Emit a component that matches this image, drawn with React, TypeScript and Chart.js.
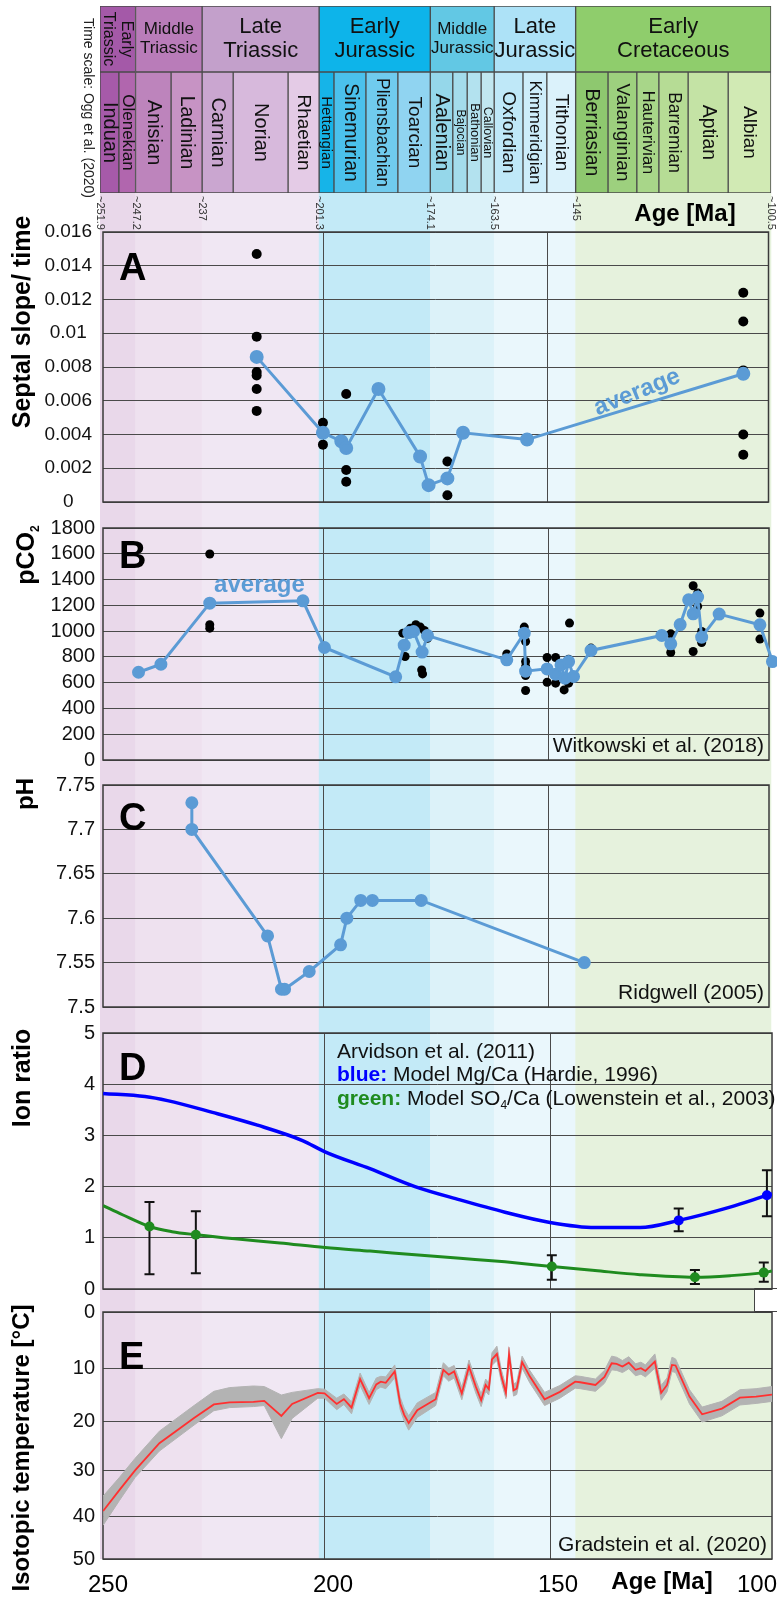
import React, { useEffect, useRef } from 'react';
import { Chart, registerables, LinearScale } from 'chart.js';

Chart.register(...registerables);

/* ---------- isotopic temperature axis (linear in d18O -> uneven in T) ---------- */
const ISO_LIN = 5.79;
const ISO_QUAD = -0.017;
const isoWarp = (t: number) => ISO_LIN * t + ISO_QUAD * t * t;

class IsoTempScale extends LinearScale {
  static id = 'isotemp';
  getPixelForValue(value: number) {
    if (value === null || value === undefined || Number.isNaN(value)) return NaN;
    const a = isoWarp(this.min as number);
    const b = isoWarp(this.max as number);
    return this.getPixelForDecimal((isoWarp(value) - a) / (b - a));
  }
  getValueForPixel(pixel: number) {
    const a = isoWarp(this.min as number);
    const b = isoWarp(this.max as number);
    const w = a + this.getDecimalForPixel(pixel) * (b - a);
    const disc = ISO_LIN * ISO_LIN + 4 * ISO_QUAD * w;
    return (-ISO_LIN + Math.sqrt(Math.max(disc, 0))) / (2 * ISO_QUAD);
  }
}
Chart.register(IsoTempScale as any);

/* ================= DATA ================= */

// age axis (Ma)
const AGE_LEFT = 249.33;
const AGE_RIGHT = 100.67;
const AGE_GRID = [200, 150];
const AGE_AXIS_TICKS = [250, 200, 150, 100];
const AGE_AXIS_LABELS = ['250', '200', '150', '100'];

// time scale (as drawn in the figure)
const EPOCH_NAMES = ['Early Triassic', 'Middle Triassic', 'Late Triassic', 'Early Jurassic', 'Middle Jurassic', 'Late Jurassic', 'Early Cretaceous'];
const EPOCH_BOUNDS = [250, 242.1, 227.3, 201.3, 176.6, 162.4, 144.3, 100.9];
const EPOCH_BOUND_LABELS = ['~251.9', '~247.2', '~237', '~201.3', '~174.1', '~163.5', '~145', '~100.5'];
const STAGE_NAMES = ['Induan', 'Olenekian', 'Anisian', 'Ladinian', 'Carnian', 'Norian', 'Rhaetian', 'Hettangian', 'Sinemurian', 'Pliensbachian', 'Toarcian', 'Aalenian', 'Bajocian', 'Bathonian', 'Callovian', 'Oxfordian', 'Kimmeridgian', 'Tithonian', 'Berriasian', 'Valanginian', 'Hauterivian', 'Barremian', 'Aptian', 'Albian'];
const STAGE_BOUNDS = [250, 245.8, 242.1, 234.2, 227.3, 220.4, 208.2, 201.3, 198.0, 190.9, 183.8, 176.6, 171.6, 168.4, 165.3, 162.4, 156.0, 150.7, 144.3, 137.1, 130.7, 125.8, 119.3, 110.4, 100.9];

// A: septal slope / time
const A_TICKS = [0, 0.002, 0.004, 0.006, 0.008, 0.01, 0.012, 0.014, 0.016];
const A_TICK_LABELS = ['0', '0.002', '0.004', '0.006', '0.008', '0.01', '0.012', '0.014', '0.016'];
const A_DOT_AGES = [215, 215, 215, 215, 215, 215, 200.2, 200.2, 195, 195, 195, 172.4, 172.4, 106.3, 106.3, 106.3, 106.3, 106.3];
const A_DOT_VALS = [0.0147, 0.0098, 0.0077, 0.0075, 0.0067, 0.0054, 0.0047, 0.0034, 0.0064, 0.0019, 0.0012, 0.0024, 0.0004, 0.0124, 0.0107, 0.0078, 0.004, 0.0028];
const A_AVG_AGES = [215, 200.2, 196.1, 195, 187.8, 178.5, 176.6, 172.4, 168.9, 154.6, 106.3];
const A_AVG_VALS = [0.0086, 0.0041, 0.0036, 0.0032, 0.0067, 0.0027, 0.001, 0.0014, 0.0041, 0.0037, 0.0076];
const A_AVG_LABEL = { age: 130, value: 0.0065 };

// B: pCO2
const B_TICKS = [0, 200, 400, 600, 800, 1000, 1200, 1400, 1600, 1800];
const B_TICK_LABELS = ['0', '200', '400', '600', '800', '1000', '1200', '1400', '1600', '1800'];
const B_AVG_AGES = [241.4, 236.4, 225.5, 204.7, 199.9, 184.0, 182.1, 181.1, 180.0, 178.1, 176.9, 159.2, 155.3, 155.0, 150.2, 148.3, 147.1, 146.2, 145.4, 144.3, 140.4, 124.6, 122.6, 120.5, 118.6, 117.6, 116.6, 115.7, 111.8, 102.7, 99.9];
const B_AVG_VALS = [681, 743, 1217, 1235, 873, 645, 891, 989, 997, 837, 966, 777, 984, 689, 707, 666, 738, 635, 764, 648, 850, 966, 901, 1051, 1243, 1134, 1264, 953, 1132, 1049, 764];
const B_DOT_AGES = [225.5, 225.5, 225.5, 182.4, 180.7, 179.5, 178.5, 177.6, 176.9, 181.9, 178.2, 178.0, 159.2, 159.2, 155.3, 155.0, 155.0, 155.0, 155.0, 155.0, 150.2, 150.2, 148.3, 148.3, 146.4, 145.4, 145.2, 145.4, 140.4, 122.6, 122.6, 117.6, 116.6, 116.6, 117.6, 115.7, 115.7, 102.7, 102.7];
const B_DOT_VALS = [1598, 1049, 1023, 984, 1023, 1049, 1031, 1005, 945, 803, 699, 668, 823, 764, 1031, 919, 764, 725, 655, 539, 795, 603, 795, 596, 544, 596, 1062, 782, 868, 979, 834, 1352, 1295, 1192, 842, 997, 912, 1140, 938];
const B_AVG_LABEL = { age: 214.4, value: 1303 };

// C: pH
const C_TICKS = [7.5, 7.55, 7.6, 7.65, 7.7, 7.75];
const C_TICK_LABELS = ['7.5', '7.55', '7.6', '7.65', '7.7', '7.75'];
const C_AGES = [229.5, 229.5, 212.6, 209.5, 208.8, 203.3, 196.3, 194.9, 191.8, 189.2, 178.3, 141.9];
const C_VALS = [7.73, 7.7, 7.58, 7.52, 7.52, 7.54, 7.57, 7.6, 7.62, 7.62, 7.62, 7.55];

// D: ion ratios
const D_TICKS = [0, 1, 2, 3, 4, 5];
const D_TICK_LABELS = ['0', '1', '2', '3', '4', '5'];
const D_MG_AGES = [249.3, 240, 235, 225, 215, 205, 200, 190, 180, 170, 160, 150, 140, 130, 121.4, 110, 101.8, 100.7];
const D_MG_VALS = [3.82, 3.76, 3.68, 3.45, 3.2, 2.9, 2.68, 2.35, 2.0, 1.74, 1.5, 1.3, 1.2, 1.2, 1.34, 1.6, 1.83, 1.86];
const D_SO4_AGES = [249.3, 245, 239, 234, 228.7, 220, 210, 200, 190, 180, 170, 160, 149.6, 140, 130, 117.8, 110, 102.5, 100.7];
const D_SO4_VALS = [1.63, 1.45, 1.22, 1.12, 1.06, 0.98, 0.9, 0.81, 0.74, 0.67, 0.6, 0.53, 0.44, 0.36, 0.28, 0.23, 0.26, 0.32, 0.35];
const D_MG_PT_AGES = [121.4, 101.8];
const D_MG_PT_VALS = [1.34, 1.83];
const D_MG_ERR_LO = [1.13, 1.42];
const D_MG_ERR_HI = [1.57, 2.32];
const D_SO4_PT_AGES = [239, 228.7, 149.6, 117.8, 102.5];
const D_SO4_PT_VALS = [1.22, 1.06, 0.44, 0.23, 0.32];
const D_SO4_ERR_LO = [0.29, 0.31, 0.18, 0.1, 0.14];
const D_SO4_ERR_HI = [1.7, 1.52, 0.66, 0.37, 0.52];

// E: isotopic temperature
const E_TICKS = [0, 10, 20, 30, 40, 50];
const E_TICK_LABELS = ['0', '10', '20', '30', '40', '50'];
const E_AGES = [249.3, 245.7, 242.2, 236.8, 229.1, 224.7, 221.2, 215.9, 213.5, 209.7, 207.3, 201.6, 200.1, 197.4, 195.8, 194.1, 192.2, 190.2, 188.6, 187.6, 186.5, 184.5, 183.3, 182.4, 181.4, 179.5, 175.4, 173.7, 172.5, 171.3, 169.6, 168.0, 166.5, 165.3, 164.3, 163.6, 162.9, 161.8, 160.8, 159.8, 159.1, 158.1, 157.4, 156.2, 154.5, 151.2, 147.8, 144.4, 143.3, 139.9, 137.9, 136.3, 135.2, 133.9, 132.5, 131.0, 129.8, 128.8, 126.7, 125.3, 124.0, 122.9, 122.1, 119.0, 116.2, 111.8, 107.8, 104.2, 100.6];
const E_TEMP = [38.8, 34.2, 30.0, 24.4, 19.4, 16.8, 16.4, 16.3, 16.1, 19.0, 16.7, 14.6, 14.7, 16.7, 15.8, 17.4, 12.0, 15.6, 13.0, 12.5, 12.7, 10.6, 16.6, 18.8, 20.4, 17.9, 15.8, 10.3, 11.2, 10.6, 14.7, 9.7, 13.4, 16.0, 13.1, 13.9, 8.4, 7.4, 11.5, 14.6, 7.5, 14.1, 13.8, 8.9, 11.5, 15.8, 14.4, 12.5, 12.6, 13.1, 11.6, 9.1, 9.2, 9.7, 9.0, 10.3, 10.0, 10.5, 8.8, 14.6, 13.1, 9.4, 9.5, 15.3, 18.7, 17.6, 15.5, 15.3, 14.9];
const E_BAND_LO = [35.5, 31.5, 27.5, 22.0, 17.0, 14.3, 13.6, 13.3, 13.4, 15.0, 14.5, 13.8, 13.9, 15.6, 14.8, 16.3, 10.9, 14.5, 11.8, 11.5, 11.6, 9.4, 15.4, 17.5, 19.0, 16.5, 14.5, 9.0, 10.0, 9.5, 13.5, 8.5, 12.2, 14.8, 12.0, 12.7, 7.2, 6.0, 10.3, 13.4, 6.2, 12.9, 12.6, 7.8, 10.4, 14.5, 13.2, 11.4, 11.5, 12.0, 10.4, 7.8, 8.0, 8.6, 7.9, 9.2, 8.9, 9.4, 7.4, 13.2, 11.8, 8.0, 8.3, 14.0, 17.3, 16.2, 14.0, 13.8, 13.4];
const E_BAND_HI = [42.0, 36.5, 31.5, 26.0, 20.8, 18.0, 17.4, 17.2, 17.0, 23.5, 19.5, 15.6, 15.6, 17.8, 16.8, 18.6, 13.2, 16.8, 14.0, 13.5, 13.8, 11.8, 17.8, 20.0, 21.8, 19.3, 17.0, 11.4, 12.4, 11.8, 15.9, 10.8, 14.6, 17.2, 14.3, 15.0, 9.5, 8.6, 12.6, 15.7, 8.7, 15.2, 14.9, 10.0, 12.7, 17.0, 15.6, 13.7, 13.8, 14.3, 12.8, 10.3, 10.4, 10.8, 10.1, 11.4, 11.1, 11.6, 10.0, 16.0, 14.4, 10.6, 10.8, 16.7, 20.2, 19.0, 16.9, 16.6, 16.2];

/* ================= STYLE ================= */
const W = 777;
const H = 1597;
const PAD = 16;
const FONT = "'Liberation Sans', Arial, Helvetica, sans-serif";
const f = (size: number, bold = false) => `${bold ? 'bold ' : ''}${size}px ${FONT}`;
const INK = '#111111';
const GRID = '#4a4a4a';
const FRAME = '#3a3a3a';
const HEADER_LINE = '#4a4a4a';
const AVG_BLUE = '#5b9bd5';
const MG_BLUE = '#0000ff';
const SO4_GREEN = '#1f8b1f';
const TEMP_RED = '#ff3030';
const BAND_GRAY = '#b3b3b3';

const EPOCH_COLORS = ['#a459a8', '#b97cb9', '#c3a0cb', '#0db4ea', '#62c8e4', '#ade2f7', '#8fcd6c'];
const BAND_COLORS = ['#e9d8ea', '#eee1ef', '#f0e7f3', '#c3eaf7', '#dcf2f9', '#eaf7fc', '#e6f2dd'];
const EPOCH_FONT = [16, 17, 22, 22, 17, 22, 22];
const EPOCH_ROTATED = [true, false, false, false, false, false, false];
const STAGE_COLORS = ['#a65aa9', '#b166ae', '#bd84bc', '#c793c4', '#caa6d0', '#d7b9dc', '#e4cbe6', '#16b4e8', '#4bc1ec', '#70cbee', '#90d4f1', '#95d7ea', '#a4dcec', '#b3e2ef', '#c1e7f0', '#bfe8f8', '#cdedfa', '#dbf2fb', '#8ec86f', '#9dd07e', '#a8d689', '#b6dc95', '#c4e3a5', '#d1eab4'];
const STAGE_FONT = [20, 17, 20, 19.5, 20, 20, 19, 15, 19.5, 17.5, 19, 20, 12, 13, 12.5, 19, 17, 19, 19.5, 19, 16.5, 17.5, 19.5, 19];

/* ================= helpers ================= */
const pts = (xs: number[], ys: number[]) => xs.map((x, i) => ({ x, y: ys[i] }));

function rotText(ctx: any, text: string, x: number, y: number, angle: number, font: string, color: string, align = 'center', baseline = 'middle') {
  ctx.save();
  ctx.translate(x, y);
  ctx.rotate(angle);
  ctx.font = font;
  ctx.fillStyle = color;
  ctx.textAlign = align;
  ctx.textBaseline = baseline;
  ctx.fillText(text, 0, 0);
  ctx.restore();
}

type Run = { t: string; f: string; c: string; dy?: number };
function runsWidth(ctx: any, runs: Run[]) {
  let w = 0;
  for (const r of runs) { ctx.font = r.f; w += ctx.measureText(r.t).width; }
  return w;
}
function drawRuns(ctx: any, runs: Run[], x: number, y: number) {
  let cx = x;
  ctx.textAlign = 'left';
  ctx.textBaseline = 'alphabetic';
  for (const r of runs) {
    ctx.font = r.f;
    ctx.fillStyle = r.c;
    ctx.fillText(r.t, cx, y + (r.dy || 0));
    cx += ctx.measureText(r.t).width;
  }
}

function drawLines(ctx: any, lines: string[], cx: number, cy: number, size: number, rotate: boolean) {
  ctx.save();
  ctx.translate(cx, cy);
  if (rotate) ctx.rotate(Math.PI / 2);
  ctx.font = f(size);
  ctx.fillStyle = INK;
  ctx.textAlign = 'center';
  ctx.textBaseline = 'middle';
  const lh = size * 1.12;
  lines.forEach((l, i) => ctx.fillText(l, 0, (i - (lines.length - 1) / 2) * lh));
  ctx.restore();
}

const framePlugin = {
  id: 'frame',
  beforeDatasetsDraw(chart: any) {
    const { ctx, chartArea: a } = chart;
    ctx.save();
    ctx.strokeStyle = FRAME;
    ctx.lineWidth = 1.5;
    ctx.strokeRect(a.left, a.top, a.right - a.left, a.bottom - a.top);
    ctx.restore();
  },
};

function drawLetter(chart: any, letter: string, baseOff: number) {
  const { ctx, chartArea: a } = chart;
  ctx.save();
  ctx.font = f(38, true);
  ctx.fillStyle = '#000';
  ctx.textAlign = 'left';
  ctx.textBaseline = 'alphabetic';
  ctx.fillText(letter, a.left + 16, a.top + baseOff);
  ctx.restore();
}

function drawSource(chart: any, text: string) {
  const { ctx, chartArea: a } = chart;
  ctx.save();
  ctx.font = f(21);
  ctx.fillStyle = INK;
  ctx.textAlign = 'right';
  ctx.textBaseline = 'alphabetic';
  ctx.fillText(text, a.right - 5, a.bottom - 8);
  ctx.restore();
}

function errorBars(chart: any, ages: number[], lo: number[], hi: number[]) {
  const { ctx, scales } = chart;
  const xs = scales.x, ys = scales.y;
  ctx.save();
  ctx.strokeStyle = '#111';
  ctx.lineWidth = 2;
  ages.forEach((a, i) => {
    const px = xs.getPixelForValue(a);
    const p1 = ys.getPixelForValue(lo[i]);
    const p2 = ys.getPixelForValue(hi[i]);
    ctx.beginPath();
    ctx.moveTo(px, p1); ctx.lineTo(px, p2);
    ctx.moveTo(px - 5, p1); ctx.lineTo(px + 5, p1);
    ctx.moveTo(px - 5, p2); ctx.lineTo(px + 5, p2);
    ctx.stroke();
  });
  ctx.restore();
}

const baseOptions = {
  animation: false,
  responsive: false,
  maintainAspectRatio: false,
  devicePixelRatio: 1,
  events: [],
  plugins: { legend: { display: false }, tooltip: { enabled: false } },
};

/* ================= time scale + background ================= */
function rowConfig(bounds: number[], colors: string[], border: boolean, top: number, bottom: number, decor: any) {
  return {
    type: 'bar',
    data: {
      labels: ['row'],
      datasets: [{
        data: colors.map((_, i) => ({ y: 'row', x: [bounds[i], bounds[i + 1]] })),
        backgroundColor: colors,
        borderColor: HEADER_LINE,
        borderWidth: border ? 1 : 0,
        borderSkipped: false,
        categoryPercentage: 1,
        barPercentage: 1,
      }],
    },
    options: {
      ...baseOptions,
      indexAxis: 'y',
      layout: { padding: { left: 100, right: 2, top, bottom } },
      scales: {
        x: { type: 'linear', min: 100, max: 250, reverse: true, display: false },
        y: { type: 'category', display: false },
      },
    },
    plugins: [decor],
  };
}

const bandsDecor = {
  id: 'bandsDecor',
  afterDraw(chart: any) {
    const ctx = chart.ctx;
    const xs = chart.scales.x;
    EPOCH_BOUNDS.forEach((age, i) => {
      rotText(ctx, EPOCH_BOUND_LABELS[i], xs.getPixelForValue(age), 196, Math.PI / 2, f(11), '#333', 'left', 'middle');
    });
    rotText(ctx, 'Age [Ma]', 685, 214, 0, f(24, true), '#000');
    rotText(ctx, 'Time scale: Ogg et al. (2020)', 88, 108, Math.PI / 2, f(14), '#222');
    rotText(ctx, 'Septal slope/ time', 23, 322, -Math.PI / 2, f(25, true), '#000');
    // pCO2 with subscript
    ctx.save();
    ctx.translate(25, 555);
    ctx.rotate(-Math.PI / 2);
    const runs: Run[] = [
      { t: 'pCO', f: f(25, true), c: '#000' },
      { t: '2', f: f(12, true), c: '#000', dy: 5 },
    ];
    drawRuns(ctx, runs, -runsWidth(ctx, runs) / 2, 9);
    ctx.restore();
    rotText(ctx, 'pH', 26, 794, -Math.PI / 2, f(24, true), '#000');
    rotText(ctx, 'Ion ratio', 23, 1078, -Math.PI / 2, f(25, true), '#000');
    rotText(ctx, 'Isotopic temperature [°C]', 22, 1448, -Math.PI / 2, f(24, true), '#000');
    // leftover box between panels D and E
    ctx.save();
    ctx.fillStyle = '#fff';
    ctx.fillRect(754, 1288, 23, 24);
    ctx.strokeStyle = '#444';
    ctx.lineWidth = 1;
    ctx.beginPath();
    ctx.moveTo(777, 1288.5); ctx.lineTo(754.5, 1288.5); ctx.lineTo(754.5, 1311.5); ctx.lineTo(777, 1311.5);
    ctx.stroke();
    ctx.restore();
  },
};

const epochDecor = {
  id: 'epochDecor',
  afterDatasetsDraw(chart: any) {
    const meta = chart.getDatasetMeta(0);
    meta.data.forEach((bar: any, i: number) => {
      const p = bar.getProps(['x', 'base', 'y'], true);
      drawLines(chart.ctx, EPOCH_NAMES[i].split(' '), (p.x + p.base) / 2, p.y, EPOCH_FONT[i], EPOCH_ROTATED[i]);
    });
  },
};

const stageDecor = {
  id: 'stageDecor',
  afterDatasetsDraw(chart: any) {
    const meta = chart.getDatasetMeta(0);
    meta.data.forEach((bar: any, i: number) => {
      const p = bar.getProps(['x', 'base', 'y'], true);
      drawLines(chart.ctx, [STAGE_NAMES[i]], (p.x + p.base) / 2, p.y, STAGE_FONT[i], true);
    });
  },
};

const bandsConfig = () => rowConfig(EPOCH_BOUNDS, BAND_COLORS, false, 193, H - 1559, bandsDecor);
const epochConfig = () => rowConfig(EPOCH_BOUNDS, EPOCH_COLORS, true, 0, 0, epochDecor);
const stageConfig = () => rowConfig(STAGE_BOUNDS, STAGE_COLORS, true, 0, 0, stageDecor);

/* ================= panels ================= */
function panelConfig(o: any) {
  return {
    type: 'line',
    data: { datasets: o.datasets },
    options: {
      ...baseOptions,
      layout: { padding: { left: 0, right: 5, top: PAD, bottom: o.padBottom ?? PAD } },
      elements: { point: { borderWidth: 0, hoverRadius: 0 }, line: { tension: 0, fill: false } },
      scales: {
        x: {
          type: 'linear', min: AGE_RIGHT, max: AGE_LEFT, reverse: true,
          afterBuildTicks: (s: any) => { s.ticks = AGE_GRID.map((v) => ({ value: v })); },
          afterFit: (s: any) => { s.height = 0; s.paddingLeft = 0; s.paddingRight = 0; s.paddingTop = 0; s.paddingBottom = 0; },
          ticks: { display: false },
          grid: { color: GRID, lineWidth: 1, drawTicks: false },
          border: { display: false },
        },
        y: {
          type: o.yType ?? 'linear', min: o.yMin, max: o.yMax, reverse: !!o.yReverse,
          afterBuildTicks: (s: any) => { s.ticks = o.yTicks.map((v: number) => ({ value: v })); },
          afterFit: (s: any) => { s.width = 103; s.paddingTop = 0; s.paddingBottom = 0; },
          ticks: {
            autoSkip: false,
            callback: (_v: any, i: number) => o.yLabels[i],
            font: { family: FONT, size: o.tickSize },
            color: INK,
            padding: o.tickPad,
            crossAlign: o.crossAlign,
          },
          grid: { color: GRID, lineWidth: 1, drawTicks: false },
          border: { display: false },
        },
      },
    },
    plugins: [framePlugin, { id: 'decor', beforeDatasetsDraw: o.under, afterDraw: o.decor }],
  };
}

const PANEL_A = { top: 232, bottom: 502 };
const PANEL_B = { top: 528, bottom: 760 };
const PANEL_C = { top: 785, bottom: 1007 };
const PANEL_D = { top: 1033, bottom: 1289 };
const PANEL_E = { top: 1312, bottom: 1559 };

const aConfig = () => panelConfig({
  yMin: 0, yMax: 0.016, yTicks: A_TICKS, yLabels: A_TICK_LABELS, tickSize: 19, tickPad: 11, crossAlign: 'center',
  datasets: [
    { data: pts(A_AVG_AGES, A_AVG_VALS), borderColor: AVG_BLUE, backgroundColor: AVG_BLUE, borderWidth: 3, pointRadius: 5.5 },
    { data: pts(A_DOT_AGES, A_DOT_VALS), showLine: false, backgroundColor: '#000', borderColor: '#000', pointRadius: 5 },
  ],
  decor: (chart: any) => {
    drawLetter(chart, 'A', 48);
    const { x, y } = chart.scales;
    rotText(chart.ctx, 'average', x.getPixelForValue(A_AVG_LABEL.age), y.getPixelForValue(A_AVG_LABEL.value), -22 * Math.PI / 180, f(24, true), AVG_BLUE);
  },
});

const bConfig = () => panelConfig({
  yMin: 0, yMax: 1800, yTicks: B_TICKS, yLabels: B_TICK_LABELS, tickSize: 20, tickPad: 8, crossAlign: 'near',
  datasets: [
    { data: pts(B_AVG_AGES, B_AVG_VALS), borderColor: AVG_BLUE, backgroundColor: AVG_BLUE, borderWidth: 3, pointRadius: 5, clip: 8 },
    { data: pts(B_DOT_AGES, B_DOT_VALS), showLine: false, backgroundColor: '#000', borderColor: '#000', pointRadius: 4.5 },
  ],
  decor: (chart: any) => {
    drawLetter(chart, 'B', 40);
    drawSource(chart, 'Witkowski et al. (2018)');
    const { x, y } = chart.scales;
    rotText(chart.ctx, 'average', x.getPixelForValue(B_AVG_LABEL.age), y.getPixelForValue(B_AVG_LABEL.value), 0, f(24, true), AVG_BLUE, 'center', 'alphabetic');
  },
});

const cConfig = () => panelConfig({
  yMin: 7.5, yMax: 7.75, yTicks: C_TICKS, yLabels: C_TICK_LABELS, tickSize: 20, tickPad: 8, crossAlign: 'near',
  datasets: [
    { data: pts(C_AGES, C_VALS), borderColor: AVG_BLUE, backgroundColor: AVG_BLUE, borderWidth: 3, pointRadius: 5 },
  ],
  decor: (chart: any) => {
    drawLetter(chart, 'C', 45);
    drawSource(chart, 'Ridgwell (2005)');
  },
});

const dConfig = () => panelConfig({
  yMin: 0, yMax: 5, yTicks: D_TICKS, yLabels: D_TICK_LABELS, tickSize: 20, tickPad: 8, crossAlign: 'near',
  datasets: [
    { data: pts(D_MG_PT_AGES, D_MG_PT_VALS), showLine: false, backgroundColor: MG_BLUE, borderColor: MG_BLUE, pointRadius: 5 },
    { data: pts(D_SO4_PT_AGES, D_SO4_PT_VALS), showLine: false, backgroundColor: SO4_GREEN, borderColor: SO4_GREEN, pointRadius: 5 },
    { data: pts(D_MG_AGES, D_MG_VALS), borderColor: MG_BLUE, borderWidth: 3.5, pointRadius: 0, cubicInterpolationMode: 'monotone' },
    { data: pts(D_SO4_AGES, D_SO4_VALS), borderColor: SO4_GREEN, borderWidth: 3, pointRadius: 0, cubicInterpolationMode: 'monotone' },
  ],
  under: (chart: any) => {
    errorBars(chart, D_MG_PT_AGES, D_MG_ERR_LO, D_MG_ERR_HI);
    errorBars(chart, D_SO4_PT_AGES, D_SO4_ERR_LO, D_SO4_ERR_HI);
  },
  decor: (chart: any) => {
    drawLetter(chart, 'D', 47);
    const { ctx, chartArea: a } = chart;
    const x0 = 337;
    ctx.save();
    drawRuns(ctx, [{ t: 'Arvidson et al. (2011)', f: f(21), c: INK }], x0, a.top + 25);
    drawRuns(ctx, [
      { t: 'blue: ', f: f(21, true), c: MG_BLUE },
      { t: 'Model Mg/Ca (Hardie, 1996)', f: f(21), c: INK },
    ], x0, a.top + 48);
    drawRuns(ctx, [
      { t: 'green: ', f: f(21, true), c: SO4_GREEN },
      { t: 'Model SO', f: f(21), c: INK },
      { t: '4', f: f(12), c: INK, dy: 4 },
      { t: '/Ca (Lowenstein et al., 2003)', f: f(21), c: INK },
    ], x0, a.top + 72);
    ctx.restore();
  },
});

const eConfig = () => panelConfig({
  yType: 'isotemp', yMin: 0, yMax: 50, yReverse: true, yTicks: E_TICKS, yLabels: E_TICK_LABELS, tickSize: 20, tickPad: 8, crossAlign: 'near',
  padBottom: H - PANEL_E.bottom,
  datasets: [
    { data: pts(E_AGES, E_TEMP), borderColor: TEMP_RED, borderWidth: 1.8, pointRadius: 0 },
    { data: pts(E_AGES, E_BAND_LO), borderColor: BAND_GRAY, borderWidth: 1, pointRadius: 0 },
    { data: pts(E_AGES, E_BAND_HI), borderColor: BAND_GRAY, backgroundColor: BAND_GRAY, borderWidth: 1, pointRadius: 0, fill: '-1' },
  ],
  decor: (chart: any) => {
    drawLetter(chart, 'E', 57);
    drawSource(chart, 'Gradstein et al. (2020)');
    const { ctx, chartArea: a, scales } = chart;
    ctx.save();
    ctx.font = f(24);
    ctx.fillStyle = '#000';
    ctx.textAlign = 'center';
    ctx.textBaseline = 'middle';
    AGE_AXIS_TICKS.forEach((v, i) => {
      const w = ctx.measureText(AGE_AXIS_LABELS[i]).width;
      let px = scales.x.getPixelForValue(v) + 8;
      px = Math.min(Math.max(px, w / 2), W - w / 2);
      ctx.fillText(AGE_AXIS_LABELS[i], px, a.bottom + 26);
    });
    ctx.font = f(24, true);
    ctx.fillText('Age [Ma]', 662, a.bottom + 23);
    ctx.restore();
  },
});

/* ================= React ================= */
function ChartBox({ top, height, make }: { top: number; height: number; make: () => any }) {
  const ref = useRef<HTMLCanvasElement>(null);
  useEffect(() => {
    const chart = new Chart(ref.current as HTMLCanvasElement, make());
    return () => chart.destroy();
  }, []);
  return (
    <canvas
      ref={ref}
      width={W}
      height={height}
      style={{ position: 'absolute', left: 0, top, width: W, height, display: 'block' }}
    />
  );
}

const panelBox = (p: { top: number; bottom: number }, padBottom = PAD) => ({
  top: p.top - PAD,
  height: p.bottom - p.top + PAD + padBottom,
});

export default function App() {
  const a = panelBox(PANEL_A);
  const b = panelBox(PANEL_B);
  const c = panelBox(PANEL_C);
  const d = panelBox(PANEL_D);
  const e = panelBox(PANEL_E, H - PANEL_E.bottom);
  return (
    <div style={{ position: 'absolute', left: 0, top: 0, width: W, height: H, overflow: 'hidden', background: '#ffffff' }}>
      <ChartBox top={0} height={H} make={bandsConfig} />
      <ChartBox top={6} height={66} make={epochConfig} />
      <ChartBox top={72} height={121} make={stageConfig} />
      <ChartBox top={a.top} height={a.height} make={aConfig} />
      <ChartBox top={b.top} height={b.height} make={bConfig} />
      <ChartBox top={c.top} height={c.height} make={cConfig} />
      <ChartBox top={d.top} height={d.height} make={dConfig} />
      <ChartBox top={e.top} height={e.height} make={eConfig} />
    </div>
  );
}
